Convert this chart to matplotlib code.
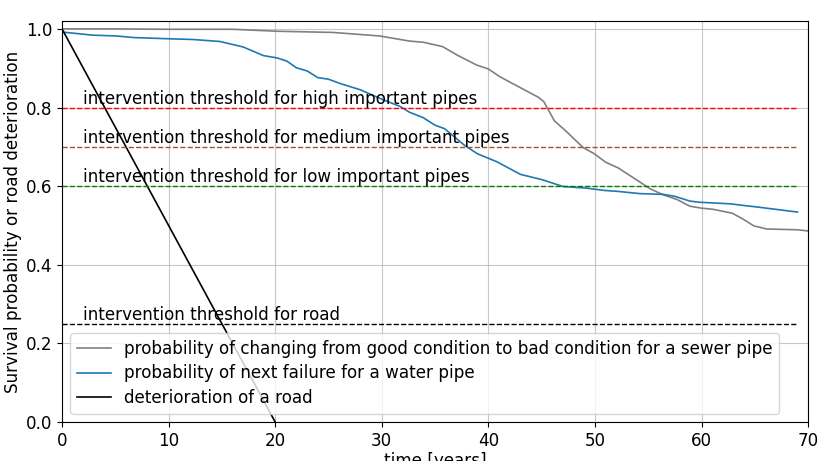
"""Survival probability of sewer / water pipes vs. road deterioration, with intervention thresholds."""

import matplotlib
matplotlib.use("Agg")
import matplotlib.pyplot as plt

# sewer pipe: probability of changing from good to bad condition
sewer_t = [0, 5, 10, 16, 20.2, 25.4, 29.8, 32.6, 33.9, 35.7, 37.1, 38.9, 40, 41.1,
           43.1, 44.7, 45.2, 46.2, 47.2, 48.9, 49.9, 51, 52.2, 53.9, 55.2, 56.4,
           57.7, 58.9, 60, 61.1, 62.9, 63.9, 64.9, 66.1, 69, 70]
sewer_p = [1.0, 1.0, 0.999, 0.999, 0.994, 0.991, 0.982, 0.969, 0.966, 0.955, 0.933,
           0.908, 0.898, 0.878, 0.849, 0.826, 0.815, 0.766, 0.742, 0.698, 0.683,
           0.661, 0.646, 0.616, 0.593, 0.578, 0.566, 0.549, 0.544, 0.541, 0.531,
           0.516, 0.499, 0.491, 0.489, 0.486]

# water pipe: probability of next failure
water_t = [0, 2.9, 5.1, 6.7, 9.8, 12.3, 14.8, 17, 18.9, 20.2, 21.1, 22, 23, 24, 25,
           26.1, 28, 30.1, 31.7, 32.6, 33.9, 35, 35.9, 37.8, 39, 40.8, 43, 45.1,
           47, 49.2, 50.9, 52, 54.2, 56.4, 57.5, 58.9, 59.8, 62.7, 63.9, 65.2, 69]
water_p = [0.992, 0.984, 0.982, 0.978, 0.975, 0.973, 0.968, 0.954, 0.932, 0.926,
           0.918, 0.901, 0.893, 0.876, 0.872, 0.861, 0.845, 0.820, 0.803, 0.788,
           0.774, 0.755, 0.746, 0.703, 0.682, 0.662, 0.630, 0.616, 0.599, 0.595,
           0.589, 0.587, 0.581, 0.579, 0.574, 0.562, 0.559, 0.555, 0.551, 0.547,
           0.534]

# road deterioration (linear, 20 years)
road_t = [0, 20, 25]
road_p = [1.0, 0.0, -0.25]

thresh_vals = [0.8, 0.7, 0.6, 0.25]
thresh_labels = [
    "intervention threshold for high important pipes",
    "intervention threshold for medium important pipes",
    "intervention threshold for low important pipes",
    "intervention threshold for road",
]
thresh_colors = ["red", "sienna", "green", "black"]

plt.rcParams["font.size"] = 12.1

fig = plt.figure(figsize=(8.19, 4.61), dpi=100)
ax = fig.add_axes([0.0757, 0.0846, 0.911, 0.8698])

ax.plot(sewer_t, sewer_p, color="gray", lw=1.2,
        label="probability of changing from good condition to bad condition for a sewer pipe")
ax.plot(water_t, water_p, color="tab:blue", lw=1.2,
        label="probability of next failure for a water pipe")
ax.plot(road_t, road_p, color="black", lw=1.2, label="deterioration of a road")

for val, lab, col in zip(thresh_vals, thresh_labels, thresh_colors):
    ax.plot([0, 69], [val, val], color=col, ls="--", lw=1.0)
    ax.text(2, val + 0.01, lab)

ax.set_xlim(0, 70)
ax.set_ylim(0, 1.02)
ax.set_xticks([0, 10, 20, 30, 40, 50, 60, 70])
ax.set_yticks([0.0, 0.2, 0.4, 0.6, 0.8, 1.0])
ax.grid(True, alpha=0.7)
ax.set_xlabel("time [years]", labelpad=2)
ax.set_ylabel("Survival probability or road deterioration", labelpad=3)
ax.legend(loc="lower left", labelspacing=0.38)

fig.savefig("out.png", dpi=100)
